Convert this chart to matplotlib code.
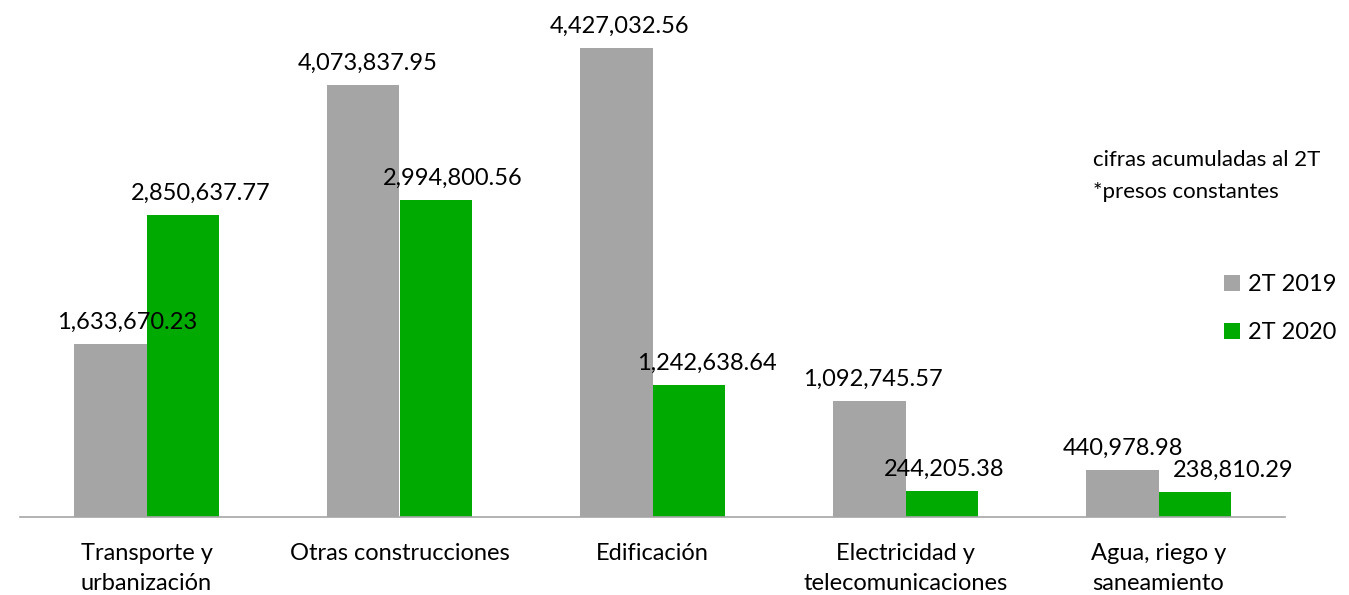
import numpy as np
import matplotlib.pyplot as plt

plt.rcParams["font.family"] = ["Lato", "DejaVu Sans"]

# data
categories = [
    "Transporte y\nurbanización",
    "Otras construcciones",
    "Edificación",
    "Electricidad y\ntelecomunicaciones",
    "Agua, riego y\nsaneamiento",
]
values_2019 = [1633670.23, 4073837.95, 4427032.56, 1092745.57, 440978.98]
values_2020 = [2850637.77, 2994800.56, 1242638.64, 244205.38, 238810.29]
series_names = ["2T 2019", "2T 2020"]

gray = "#A5A5A5"
green = "#00AA00"

# manual label shifts (px) as in the original chart
dx_2019 = [17, 4, 3, 3, 0]
dx_2020 = [18, 17, 18, 3, 39]

W, H = 1349, 595
fig = plt.figure(figsize=(W / 100, H / 100), dpi=100)
ax = fig.add_axes([20 / W, (H - 517) / H, 1265 / W, 507 / H])

x = np.arange(len(categories))
bw = 0.285
b1 = ax.bar(x - bw / 2, values_2019, bw, color=gray, label=series_names[0])
b2 = ax.bar(x + bw / 2, values_2020, bw, color=green, label=series_names[1])

ax.set_xlim(-0.5, len(categories) - 0.5)
ax.set_ylim(0, 4427032.56 * 507 / 469)

for bars, vals, dxs in [(b1, values_2019, dx_2019), (b2, values_2020, dx_2020)]:
    for bar, v, dx in zip(bars, vals, dxs):
        ax.annotate(f"{v:,.2f}", (bar.get_x() + bar.get_width() / 2, v),
                    xytext=(dx * 0.72, 8), textcoords="offset points",
                    ha="center", va="bottom", fontsize=17, color="#000000")

for s in ["top", "right", "left"]:
    ax.spines[s].set_visible(False)
ax.spines["bottom"].set_color("#A6A6A6")
ax.spines["bottom"].set_linewidth(1.2)
ax.set_yticks([])
ax.set_xticks(x)
ax.set_xticklabels(categories, fontsize=17, linespacing=1.5)
ax.tick_params(axis="x", length=0, pad=19)

fig.text(1093 / W, 1 - 176 / H, "cifras acumuladas al 2T\n*presos constantes",
         fontsize=16, va="center", ha="left", linespacing=1.7)

fig.legend(handles=[b1, b2], labels=series_names, loc="upper left",
           bbox_to_anchor=(1203 / W, 1 - 253 / H), frameon=False, fontsize=17,
           handlelength=0.65, handleheight=0.65, handletextpad=0.35,
           labelspacing=1.15)

fig.savefig("out.png", dpi=100)
